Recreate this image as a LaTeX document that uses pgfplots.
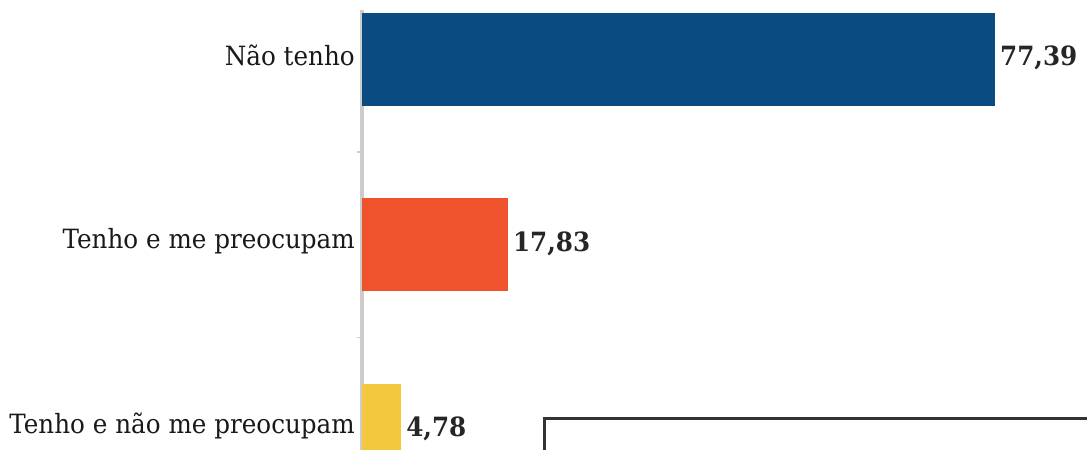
\documentclass[border=0pt]{standalone}
\usepackage{pgfplots}
\pgfplotsset{compat=1.18}
\usepackage{fontspec}
\setmainfont{DejaVu Serif}[FakeStretch=0.93]
\definecolor{cblue}{HTML}{0A4B82}
\definecolor{corange}{HTML}{EF532D}
\definecolor{cyellow}{HTML}{F2C83F}
\definecolor{caxis}{HTML}{CCCCCC}
\begin{document}
\begin{tikzpicture}
\path[use as bounding box] (0,0) rectangle (1087bp,450bp);
\clip (0,0) rectangle (1087bp,450bp);
\begin{axis}[
  at={(362bp,440bp)}, anchor=north west,
  scale only axis, width=725bp, height=531.6bp,
  xbar, bar width=0.5, bar shift=0pt,
  xmin=0, xmax=88.64, ymin=-0.266, ymax=2.6,
  y dir=reverse,
  axis x line=none, axis y line=left,
  y axis line style={-, color=caxis, line width=3bp},
  ytick={0,1,2},
  yticklabels={Não tenho, Tenho e me preocupam, Tenho e não me preocupam},
  major tick length=0pt,
  minor ytick={0.5,1.5}, minor tick length=5bp, tick align=outside,
  minor tick style={color=caxis, line width=1.5bp},
  yticklabel style={inner sep=0pt, xshift=-7bp, yshift=4bp, font=\fontsize{26.5bp}{30bp}\selectfont, text=black!90},
  point meta=explicit symbolic,
  nodes near coords,
  nodes near coords style={anchor=west, inner sep=0pt, xshift=5bp, yshift=1bp, font=\fontsize{26.5bp}{30bp}\selectfont\bfseries, text=black!85},
  clip=false,
]
\addplot[fill=cblue, draw=none] coordinates {(77.39,0) [77,39]};
\addplot[fill=corange, draw=none] coordinates {(17.83,1) [17,83]};
\addplot[fill=cyellow, draw=none] coordinates {(4.78,2) [4,78]};
\end{axis}
\draw[line width=3bp, color=black!80] (544bp,31.5bp) rectangle (1110bp,-30bp);
\end{tikzpicture}
\end{document}
